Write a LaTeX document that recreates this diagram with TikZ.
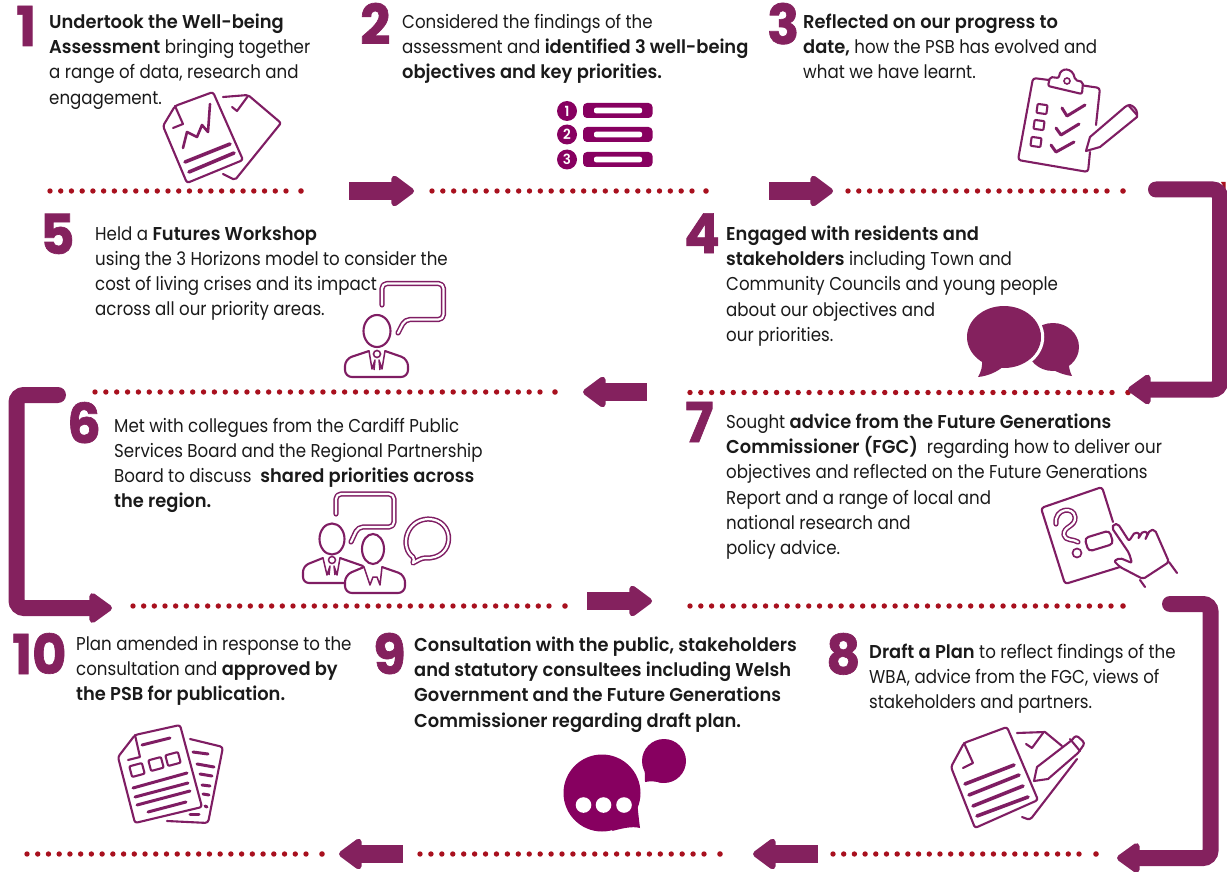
\documentclass[tikz,border=0pt]{standalone}
\usepackage{fontspec}
\usetikzlibrary{arrows.meta,calc}
\setmainfont{Poppins}[BoldFont=* SemiBold,UprightFeatures={FakeStretch=0.895},BoldFeatures={FakeStretch=0.96}]
\newfontfamily\numfont{Poppins Bold}[FakeBold=1.2,FakeStretch=0.96]
\definecolor{plum}{HTML}{84215E}
\definecolor{icon}{HTML}{7F1D63}
\definecolor{deep}{HTML}{870060}
\definecolor{dotred}{HTML}{A8101E}
\definecolor{ink}{HTML}{1A1A1A}
\newcommand{\first}{\rule{0pt}{14pt}}
\newcommand{\B}[1]{\textbf{#1}}
\tikzset{
  txt/.style={anchor=north west,inner sep=0pt,align=left,text=ink,font=\fontsize{18.6}{25.1}\selectfont},
  num/.style={anchor=base west,inner sep=0pt,text=plum,font=\numfont\fontsize{55}{55}\selectfont},
  flow/.style={draw=plum,line width=18pt,-{Triangle[length=25pt,width=35pt,round]}},
  elbow/.style={draw=plum,line width=16pt,line cap=round,rounded corners=7.5pt,-{Triangle[length=25pt,width=34pt,round]}},
  dots/.style={draw=dotred,line width=5.4pt,line cap=round},
  dotend/.style={circle,fill=dotred,inner sep=0pt,minimum size=5.6pt},
  ic/.style={draw=icon,line width=2.1pt,line join=round,line cap=round,fill=none},
  bar/.style={draw=icon,line width=3.6pt,line cap=round},
  dbl/.style={draw=icon,line width=1.5pt,line cap=round,line join=round,double=white,double distance=2.2pt,rounded corners=5pt},
}
\begin{document}
\begin{tikzpicture}[x=1pt,y=-1pt]
\useasboundingbox (0,0) rectangle (1227,872);
% stray corner
\fill[dotred] (1221,182) -- (1225.5,182) -- (1225.5,190) -- cycle;
% numbers
\node[num] (n1) at (16,46) {1};
\node[num] (n2) at (360,44) {2};
\node[num] (n3) at (767,44) {3};
\node[num] (n4) at (684,253) {4};
\node[num] (n5) at (40,254) {5};
\node[num] (n6) at (67,443) {6};
\node[num] (n7) at (685,442) {7};
\node[num] (n8) at (826,674) {8};
\node[num] (n9) at (373,674) {9};
\node[num] (n10) at (12,674) {10};
% text
\node[txt] (t1) at (49,14) {\first\B{Undertook the Well-being}\\\B{Assessment} bringing together\\a range of data, research and\\engagement.};
\node[txt] (t2) at (402,14) {\first Considered the findings of the\\assessment and \B{identified 3 well-being}\\\B{objectives and key priorities.}};
\node[txt] (t3) at (803,14) {\first\B{Reflected on our progress to}\\\B{date,} how the PSB has evolved and\\what we have learnt.};
\node[txt] (t5) at (95,226) {\first Held a \B{Futures Workshop}\\using the 3 Horizons model to consider the\\cost of living crises and its impact\\across all our priority areas.};
\node[txt] (t4) at (726,226) {\first\B{Engaged with residents and}\\\B{stakeholders} including Town and\\Community Councils and young people\\about our objectives and\\our priorities.};
\node[txt] (t6) at (114,418) {\first Met with collegues from the Cardiff Public\\Services Board and the Regional Partnership\\Board to discuss \ \B{shared priorities across}\\\B{the region.}};
\node[txt] (t7) at (726,414) {\first Sought \B{advice from the Future Generations}\\\B{Commissioner (FGC)} \ regarding how to deliver our\\objectives and reflected on the Future Generations\\Report and a range of local and\\national research and\\policy advice.};
\node[txt] (t10) at (76,636) {\first Plan amended in response to the\\consultation and \B{approved by}\\\B{the PSB for publication.}};
\node[txt] (t9) at (414,637) {\first\B{Consultation with the public, stakeholders}\\\B{and statutory consultees including Welsh}\\\B{Government and the Future Generations}\\\B{Commissioner regarding draft plan.}};
\node[txt] (t8) at (869,644) {\first\B{Draft a Plan} to reflect findings of the\\WBA, advice from the FGC, views of\\stakeholders and partners.};
% dotted rules
\foreach \nm/\xa/\ya/\xb/\xc in {r1a/50/191/286/301, r1b/432/191/692/706, r1c/848/191/1107/1123,
  r2a/95/392/540/555, r2b/690/392.5/1112/1128,
  r3a/133/606/549/565, r3b/690/606/1111/1123,
  r4a/27/854/306/322, r4b/420/854/704/720, r4c/833/854/1079/1096}{
  \pgfmathsetmacro{\spc}{(\xb-\xa)/round((\xb-\xa)/10.8)}
  \coordinate (\nm s) at (\xa,\ya);
  \coordinate (\nm e) at (\xb+0.3,\ya);
  \draw[dots,dash pattern=on 0pt off \spc pt] (\nm s) -- (\nm e);
  \node[dotend] (\nm z) at (\xc,\ya) {};
}
% straight arrows
\foreach \nm/\xa/\ya/\xb in {f1/349/191/414, f2/769/191/833, f3/647/392/583, f4/587/601/652, f5/403/854/339, f6/818/854/753}{
  \coordinate (\nm s) at (\xa,\ya);
  \coordinate (\nm e) at (\xb,\ya);
  \draw[flow] (\nm s) -- (\nm e);
}
% bent arrows
\coordinate (b1s) at (1156,189.5); \coordinate (b1a) at (1220,189.5); \coordinate (b1b) at (1220,389.5); \coordinate (b1e) at (1128,389.5);
\draw[elbow] (b1s) -- (b1a) -- (b1b) -- (b1e);
\coordinate (b2s) at (58,395); \coordinate (b2a) at (16.5,395); \coordinate (b2b) at (16.5,608); \coordinate (b2e) at (112,608);
\draw[elbow] (b2s) -- (b2a) -- (b2b) -- (b2e);
\coordinate (b3s) at (1170,604); \coordinate (b3a) at (1210.5,604); \coordinate (b3b) at (1210.5,858); \coordinate (b3e) at (1117,858);
\draw[elbow] (b3s) -- (b3a) -- (b3b) -- (b3e);

% icon 1
\draw[ic,rounded corners=2.5pt] (175,106) -- (213,92) -- (243,160) -- (187,183) -- (163,126) -- cycle;
\draw[ic] (175,106) -- (183,124) -- (173,128);
\draw[icon,line width=2.6pt,line join=round,line cap=round] (183,148) -- (187,132) -- (197,137) -- (202,125) -- (208,132) -- (210,104);
\draw[bar] (185,162) -- (230,144);
\draw[bar] (189,172) -- (234,153);
\draw[ic,rounded corners=2pt] (223,97) -- (248,95) -- (281,123) -- (235,180) -- (223,174);
\draw[ic] (232,107) -- (237,111) -- (248,96);

% icon 2
\foreach \yy/\cy/\lab in {110.5/111/1, 134.5/134.5/2, 159.5/159.5/3}{
  \fill[deep,rounded corners=4pt] (583,\yy-7.5) rectangle (652.5,\yy+7.5);
  \fill[white,rounded corners=2pt] (594,\yy-2.8) rectangle (642,\yy+2.8);
  \node[circle,fill=deep,text=white,inner sep=0pt,minimum size=20pt,font=\fontsize{14}{14}\selectfont\bfseries] (li\lab) at (567,\cy) {\lab};
}

% icon 3
\draw[ic,rounded corners=3pt] (1096,125) -- (1100,88) -- (1083,85.5);
\draw[ic,rounded corners=3pt] (1049,80) -- (1033,78) -- (1018,160) -- (1088,172) -- (1090,152);
\draw[ic,rounded corners=2pt] (1048,86) -- (1050,77) -- (1059,78) .. controls (1060,67) and (1073,67) .. (1075,80) -- (1083,82) -- (1082,94) -- cycle;
\draw[icon,line width=1.6pt] (1067,81) circle (3);
\foreach \cx/\cy in {1042/109, 1039/125, 1036/142}{
  \draw[ic,rotate around={-8:(\cx,\cy)},rounded corners=1pt] (\cx-5,\cy-4.5) rectangle (\cx+5,\cy+4.5);
}
\draw[icon,line width=3pt,line cap=round,line join=round] (1062,108) -- (1067,116) -- (1085,105);
\draw[icon,line width=3pt,line cap=round,line join=round] (1056,128) -- (1061,135) -- (1079,124);
\draw[icon,line width=3pt,line cap=round,line join=round] (1051,145) -- (1056,152) -- (1074,142);
\draw[ic] (1086,151) -- (1090,137) -- (1125,107);
\draw[ic] (1086,151) -- (1100,147) -- (1137,117);
\draw[ic,rounded corners=3pt] (1125,107) -- (1130,104) -- (1137,110) -- (1137,117);
\draw[ic] (1129,106) -- (1137,115);

% icon 4
\fill[plum] (1053,347) ellipse [x radius=26,y radius=24];
\fill[plum] (1068,360) .. controls (1069,368) and (1070,372) .. (1072,376) .. controls (1064,375) and (1056,372) .. (1048,367) -- cycle;
\draw[white,line width=3.5pt] (1004,337) ellipse [x radius=38.5,y radius=32.5];
\fill[white] (1004,369.5) -- (1040,368) -- (1030,375) -- (1004,375) -- cycle;
\fill[plum] (1004,337) ellipse [x radius=37,y radius=31];
\fill[plum] (982,358) .. controls (983,366) and (981,372) .. (978,377) .. controls (988,376) and (997,372) .. (1004,366) -- cycle;

% icon 5
\draw[ic] (377,331) ellipse [x radius=13.5,y radius=16];
\draw[ic,rounded corners=7pt] (369,351) -- (345,359) -- (345,377) -- (408,377) -- (408,359) -- (385,351);
\draw[icon,line width=1.6pt] (377,354) circle (3.5);
\draw[icon,line width=1.5pt,line join=round] (369,351) -- (372,369) -- (375,360) -- (374,370);
\draw[icon,line width=1.5pt,line join=round] (385,351) -- (382,369) -- (379,360) -- (380,370);
\draw[dbl] (382,305) -- (382,283.5) -- (443.5,283.5) -- (443.5,319.5) -- (405,319.5) [rounded corners=0pt] -- (398,333);

% icon 6
\draw[dbl] (336,514) -- (336,494) -- (394,494) -- (394,527) -- (358,527) [rounded corners=0pt] -- (351,542);
\draw[ic] (332,539) ellipse [x radius=12.5,y radius=15.5];
\draw[ic,rounded corners=6pt] (323,558) -- (303,566) -- (303,583) -- (345,583);
\draw[ic,rounded corners=4pt] (340,558) -- (363,566);
\draw[icon,line width=1.5pt] (332,560) circle (3.5);
\draw[icon,line width=1.5pt,line join=round] (323,558) -- (327,575) -- (330,566) -- (329,575);
\draw[icon,line width=1.5pt,line join=round] (340,558) -- (337,575) -- (334,566) -- (335,575);
\draw[ic] (373,549) ellipse [x radius=11,y radius=15];
\draw[ic,fill=white,rounded corners=7pt] (364,567) -- (345,575) -- (345,593) -- (405,593) -- (405,575) -- (382,567);
\draw[icon,line width=1.5pt,line join=round] (364,567) -- (370,585) -- (373,577) -- (377,577) -- (380,585) -- (382,567);
\draw[icon,line width=1.5pt,line cap=round,line join=round,double=white,double distance=2.2pt] (413,563) .. controls (414,560) and (414,559) .. (413,557) .. controls (400,548) and (405,520) .. (428,519) .. controls (456,519) and (456,560) .. (425,558) .. controls (421,558) and (417,561) .. (413,563) -- cycle;

% icon 7
\draw[ic,rounded corners=3pt] (1113,522) -- (1102,487) -- (1041,508) -- (1065,584) -- (1120,567);
\draw[dbl,rounded corners=0pt] (1056,524) .. controls (1054,508) and (1074,506) .. (1075,517) .. controls (1076,527) and (1063,526) .. (1064,535) .. controls (1065,541) and (1074,539) .. (1078,542);
\draw[icon,line width=1.7pt] (1077,553) circle (4.5);
\draw[ic,rotate around={17:(1099,541)},rounded corners=4pt] (1086,534) rectangle (1112,548);
\draw[ic,rounded corners=2pt] (1114,561) -- (1120,558) -- (1132,563) -- (1129,553) -- (1112,528) -- (1114,524) -- (1118,524) -- (1129,541) -- (1135,532) -- (1140,534) -- (1138,539) -- (1143,531) -- (1148,533) -- (1145,540) -- (1150,530) -- (1155,530) -- (1169,562) -- (1143,579) -- (1120,567) -- cycle;
\draw[ic] (1169,562) -- (1177,573);
\draw[ic] (1140,580) -- (1145,587);

% icon 8
\draw[ic,rounded corners=2.5pt] (964,743) -- (1007,727) -- (1038,800) -- (975,828) -- (951,767) -- cycle;
\draw[ic] (964,743) -- (973,763) -- (963,768);
\draw[bar] (965,784) -- (1014,765);
\draw[bar] (969,795) -- (1019,775);
\draw[bar] (973,806) -- (1023,786);
\draw[bar] (977,816) -- (1028,797);
\draw[ic] (1017,733) -- (1045,732) -- (1062,746);
\draw[ic] (1026,744) -- (1032,748) -- (1043,733);
\draw[ic,rounded corners=3pt] (1077,759) -- (1030,820) -- (1022,817);
\draw[ic] (1034,781) -- (1037,767) -- (1072,740);
\draw[ic] (1034,781) -- (1048,779) -- (1078,753);
\draw[ic,rounded corners=3pt] (1072,740) -- (1076,735) -- (1085,743) -- (1078,753);
\draw[ic] (1070,739) -- (1080,751);

% icon 9
\fill[deep] (602,793) circle (38.5);
\fill[deep] (637,800) .. controls (638,812) and (639,820) .. (640,828) .. controls (632,826) and (624,828) .. (612,831) -- cycle;
\fill[deep] (664,761) circle (22);
\fill[deep] (643,762) .. controls (645,770) and (645,776) .. (645,782) .. controls (650,781) and (655,781) .. (662,783) -- cycle;
\fill[white] (583.5,805) circle (7.8);
\fill[white] (603.5,805) circle (7.8);
\fill[white] (624,805) circle (7.8);

% icon 10
\draw[ic,rounded corners=2.5pt] (135,735) -- (180,725) -- (202,807) -- (135,823) -- (118,757) -- cycle;
\draw[ic] (135,735) -- (140,757) -- (128,760);
\draw[icon,line width=3pt,line cap=round] (142,745) -- (170,738);
\foreach \cx/\cy in {137/770, 156/764, 173/759}{
  \draw[ic,rotate around={15:(\cx,\cy)},rounded corners=1pt] (\cx-6.5,\cy-5.5) rectangle (\cx+6.5,\cy+5.5);
}
\draw[icon,line width=3pt,line cap=round] (133,788) -- (187,773);
\draw[icon,line width=3pt,line cap=round] (135,797) -- (188,783);
\draw[icon,line width=3pt,line cap=round] (137,805) -- (190,791);
\draw[icon,line width=3pt,line cap=round] (148,812) -- (186,802);
\draw[ic,rounded corners=3pt] (190,739) -- (223,747) -- (208,823) -- (167,821);
\foreach \xa/\ya/\xb/\yb in {193/752/208/754, 197/764/214/767, 200/774/212/776, 202/785/210/786, 203/794/209/795, 205/806/207/807, 190/814/199/814}{
  \draw[icon,line width=3pt,line cap=round] (\xa,\ya) -- (\xb,\yb);
}
\end{tikzpicture}
\end{document}
